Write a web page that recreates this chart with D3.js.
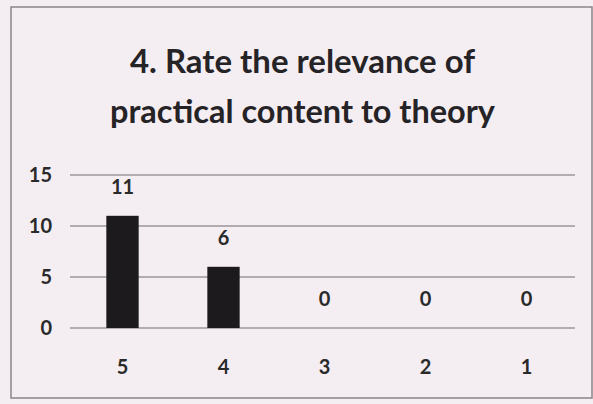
<!DOCTYPE html>
<html><head><meta charset="utf-8">
<script src="https://cdn.jsdelivr.net/npm/d3@7"></script>
<style>
html,body{margin:0;padding:0;background:#f4eef3;}
svg{display:block;font-family:Lato,"Open Sans",sans-serif;}
</style></head>
<body><svg id="chart" width="593" height="404"></svg>
<script>
// ── data ──
const CATS=["5","4","3","2","1"];
const VALUES=[11,6,0,0,0];
const YTICKS=[0,5,10,15];
const TITLE=["4. Rate the relevance of","practical content to theory"];
const TITLE_W=[345,385];   // rendered widths

const W=593,H=404;
const m={l:70,r:18,t:175,b:76};
const svg=d3.select("#chart");
svg.append("rect").attr("x",0).attr("y",0).attr("width",W).attr("height",H).attr("fill","#f4eef3");
// chart frame
svg.append("rect").attr("x",11).attr("y",7).attr("width",W-12).attr("height",391)
  .attr("fill","none").attr("stroke","#8a8589").attr("stroke-width",1.5);

const x=d3.scaleBand().domain(CATS).range([m.l,W-m.r]).paddingInner(0.68).paddingOuter(0.34);
const y=d3.scaleLinear().domain([0,15]).range([H-m.b,m.t]);

// gridlines
svg.append("g").selectAll("line").data(YTICKS).join("line")
  .attr("x1",m.l).attr("x2",W-m.r).attr("y1",d=>y(d)).attr("y2",d=>y(d))
  .attr("stroke","#9a969a").attr("stroke-width",1.6);

// y axis labels
const ya=svg.append("g").attr("transform",`translate(${m.l-18},0)`)
  .call(d3.axisLeft(y).tickValues(YTICKS).tickSize(0).tickPadding(0));
ya.select(".domain").remove();
ya.selectAll("text").attr("font-size",20).attr("font-weight","bold").attr("fill","#2a2a2a")
  .attr("font-family","Lato,sans-serif");

// bars
svg.append("g").selectAll("rect").data(VALUES).join("rect")
  .attr("x",(d,i)=>x(CATS[i])+2).attr("width",x.bandwidth())
  .attr("y",d=>y(d)).attr("height",d=>y(0)-y(d)).attr("fill","#1c1a1c");

// data labels
svg.append("g").selectAll("text").data(VALUES).join("text")
  .attr("x",(d,i)=>x(CATS[i])+x.bandwidth()/2+2).attr("y",d=>y(d)-30)
  .attr("text-anchor","middle").attr("dominant-baseline","central")
  .attr("font-size",20).attr("font-weight","bold").attr("fill","#2a2a2a").text(d=>d);

// category axis
const xa=svg.append("g").attr("transform",`translate(2,${y(0)+39})`)
  .call(d3.axisBottom(x).tickSize(0).tickPadding(0));
xa.select(".domain").remove();
xa.selectAll("text").attr("font-size",20).attr("font-weight","bold").attr("fill","#2a2a2a")
  .attr("font-family","Lato,sans-serif").attr("dy","0.35em").attr("y",0);

// title
svg.append("g").selectAll("text").data(TITLE).join("text")
  .attr("x",(W+12)/2).attr("y",(d,i)=>73+i*50)
  .attr("text-anchor","middle")
  .attr("textLength",(d,i)=>TITLE_W[i]).attr("lengthAdjust","spacingAndGlyphs")
  .attr("font-size",32).attr("font-weight","bold").attr("fill","#262326").text(d=>d);
</script></body></html>
